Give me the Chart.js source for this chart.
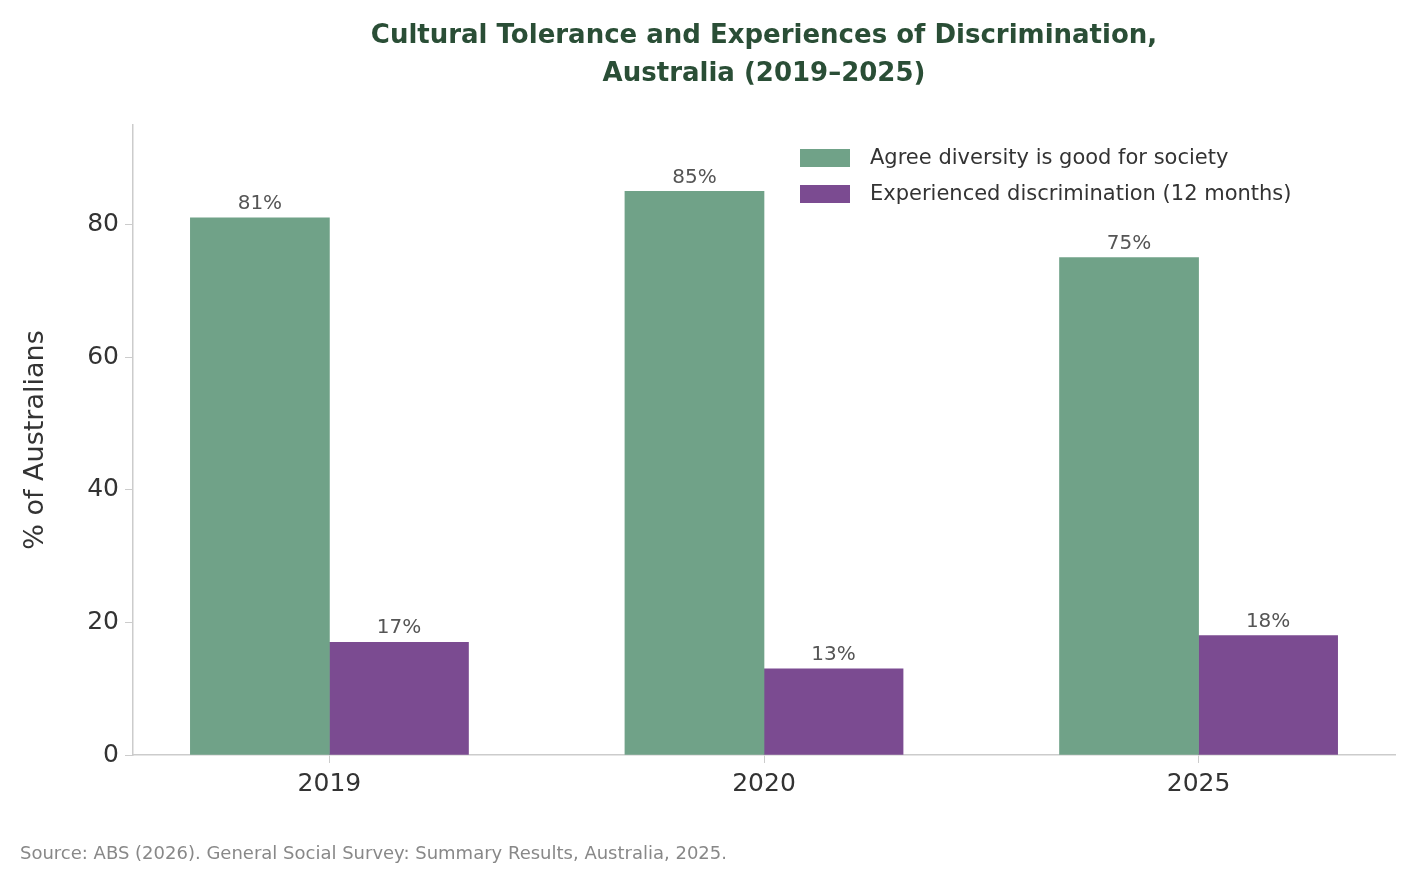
<!DOCTYPE html>
<html>
<head>
<meta charset="utf-8">
<script src="https://cdn.jsdelivr.net/npm/chart.js@4"></script>
<style>
  html, body { margin: 0; padding: 0; background: #fff; }
  #wrap { width: 1415px; height: 885px; }
</style>
</head>
<body>
<div id="wrap"><canvas id="chart"></canvas></div>
<script>
// Data
const years = ['2019', '2020', '2025'];
const seriesNames = ['Agree diversity is good for society', 'Experienced discrimination (12 months)'];
const diversityGood = [81, 85, 75];
const discrimination = [17, 13, 18];
const seriesColors = ['#70a288', '#7b4b91'];
const titleLines = ['Cultural Tolerance and Experiences of Discrimination,', 'Australia (2019\u20132025)'];
const sourceText = 'Source: ABS (2026). General Social Survey: Summary Results, Australia, 2025.';

const FONT = '"DejaVu Sans", sans-serif';
const BAR_W = 0.32; // width of one bar in category units

// Title, legend, value labels and source note
const decorPlugin = {
  id: 'decor',
  afterDraw(chart) {
    const ctx = chart.ctx;
    const area = chart.chartArea;
    ctx.save();
    ctx.textAlign = 'center';
    ctx.textBaseline = 'middle';
    ctx.fillStyle = '#2a4e36';
    ctx.font = 'bold 26px ' + FONT;
    const cx = (area.left + area.right) / 2;
    ctx.fillText(titleLines[0], cx, 36);
    ctx.fillText(titleLines[1], cx, 74);

    // value labels
    ctx.font = '20px ' + FONT;
    ctx.fillStyle = '#555';
    ctx.textBaseline = 'bottom';
    chart.data.datasets.forEach((ds, i) => {
      chart.getDatasetMeta(i).data.forEach((bar, j) => {
        ctx.fillText(ds.data[j].y + '%', bar.x, bar.y - 4);
      });
    });

    // legend
    ctx.textAlign = 'left';
    ctx.textBaseline = 'middle';
    ctx.font = '21px ' + FONT;
    seriesNames.forEach((name, i) => {
      const y = 158 + i * 36;
      ctx.fillStyle = seriesColors[i];
      ctx.fillRect(800, y - 9, 50, 18);
      ctx.fillStyle = '#333';
      ctx.fillText(name, 870, y + 1);
    });

    // source
    ctx.font = '18px ' + FONT;
    ctx.fillStyle = '#888';
    ctx.fillText(sourceText, 20, 854);
    ctx.restore();
  }
};

function toPoints(values) {
  return values.map((v, i) => ({ x: i, y: v }));
}

const chart = new Chart(document.getElementById('chart'), {
  type: 'bar',
  data: {
    datasets: [
      { label: seriesNames[0], data: toPoints(diversityGood), backgroundColor: seriesColors[0] },
      { label: seriesNames[1], data: toPoints(discrimination), backgroundColor: seriesColors[1] }
    ]
  },
  options: {
    responsive: true,
    maintainAspectRatio: false,
    animation: false,
    layout: { padding: { top: 125, left: 0, right: 20, bottom: 0 } },
    datasets: {
      bar: {
        barThickness: ctx => {
          const xs = ctx.chart.scales.x;
          return xs ? Math.abs(xs.getPixelForValue(BAR_W) - xs.getPixelForValue(0)) : 100;
        }
      }
    },
    plugins: { legend: { display: false }, title: { display: false }, tooltip: { enabled: false } },
    scales: {
      x: {
        type: 'linear',
        offset: false,
        min: -0.452,
        max: 2.452,
        afterBuildTicks: axis => { axis.ticks = years.map((_, i) => ({ value: i })); },
        afterFit: axis => { axis.height = 130; },
        ticks: {
          callback: v => years[v],
          font: { family: FONT, size: 25 },
          color: '#333',
          padding: 6
        },
        grid: { drawOnChartArea: false, offset: false, tickLength: 8, color: '#ccc' },
        border: { color: '#ccc', width: 1.5 }
      },
      y: {
        min: 0,
        max: 95,
        afterBuildTicks: axis => { axis.ticks = [0, 20, 40, 60, 80].map(v => ({ value: v })); },
        afterFit: axis => { axis.width = 133; },
        ticks: {
          font: { family: FONT, size: 25 },
          color: '#333',
          padding: 6
        },
        title: {
          display: true,
          text: '% of Australians',
          font: { family: FONT, size: 27 },
          color: '#333',
          padding: { top: 20, bottom: 6 }
        },
        grid: { drawOnChartArea: false, tickLength: 8, color: '#ccc' },
        border: { color: '#ccc', width: 1.5 }
      }
    }
  },
  plugins: [decorPlugin]
});
</script>
</body>
</html>
